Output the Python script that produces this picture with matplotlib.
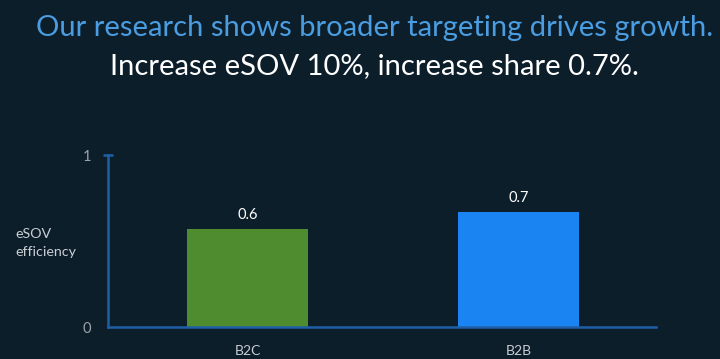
import matplotlib.pyplot as plt

# data
categories = ["B2C", "B2B"]
values = [0.57, 0.67]
bar_colors = ["#4f8c30", "#1a84f2"]
ytick_values = [0, 1]

bg = "#0d1e2b"
axis_blue = "#1f5fa6"
txt_grey = "#c9ced3"

plt.rcParams["font.family"] = ["Lato", "DejaVu Sans"]

fig = plt.figure(figsize=(7.2, 3.59), dpi=100, facecolor=bg)
ax = fig.add_axes([0.15, 0.089, 0.761, 0.479], facecolor=bg)

xpos = range(len(categories))
bars = ax.bar(xpos, values, width=0.446, color=bar_colors, zorder=2)
for rect, v in zip(bars, values):
    ax.annotate("{:.1f}".format(v),
                (rect.get_x() + rect.get_width() / 2, rect.get_height()),
                xytext=(0, 5), textcoords="offset points",
                ha="center", va="bottom", color="white", fontsize=10.5)

ax.set_xlim(-0.515, 1.507)
ax.set_ylim(0, 1)
ax.set_xticks(list(xpos))
ax.set_xticklabels(categories)
ax.set_yticks(ytick_values)
ax.set_yticklabels([str(t) for t in ytick_values])
ax.tick_params(axis="x", length=0, pad=13, colors=txt_grey, labelsize=10)
ax.tick_params(axis="y", length=0, pad=12, colors=txt_grey, labelsize=10.5)
ax.yaxis.set_tick_params(labelcolor="#9aa3ab")

for side in ["top", "right"]:
    ax.spines[side].set_visible(False)
for side in ["left", "bottom"]:
    ax.spines[side].set_color(axis_blue)
    ax.spines[side].set_linewidth(1.8)
# small cap at the top of the y axis
ax.plot([-0.532, -0.495], [1, 1], color=axis_blue, lw=1.8,
        clip_on=False, solid_capstyle="butt")

fig.text(0.021, 0.323, "eSOV\nefficiency", color=txt_grey, fontsize=10.3,
         ha="left", va="center", linespacing=1.6)

fig.text(0.52, 0.922, "Our research shows broader targeting drives growth.",
         color="#4a9de0", fontsize=21, ha="center", va="center")
fig.text(0.52, 0.815, "Increase eSOV 10%, increase share 0.7%.",
         color="white", fontsize=21, ha="center", va="center")

fig.savefig("out.png", dpi=100, facecolor=bg)
